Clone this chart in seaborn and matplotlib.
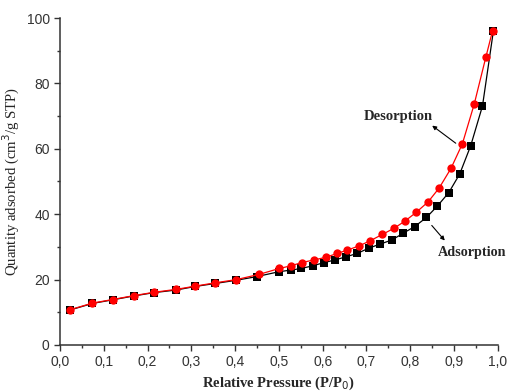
import matplotlib
matplotlib.use("Agg")
import matplotlib.pyplot as plt
from matplotlib.ticker import MultipleLocator, FuncFormatter
import pandas as pd
import seaborn as sns

# ---------------------------------------------------------------------------
# Isotherm data
# ---------------------------------------------------------------------------
ads_p = [0.023, 0.074, 0.120, 0.169, 0.214, 0.265, 0.309, 0.354, 0.403, 0.449,
         0.500, 0.527, 0.551, 0.577, 0.603, 0.628, 0.654, 0.679, 0.705, 0.732,
         0.758, 0.784, 0.810, 0.837, 0.862, 0.888, 0.913, 0.938, 0.965, 0.990]
ads_v = [10.7, 12.7, 13.8, 15.0, 16.0, 16.8, 17.9, 18.8, 19.8, 20.9,
         22.4, 22.9, 23.4, 24.2, 25.2, 26.0, 27.0, 28.0, 29.6, 30.9,
         32.1, 34.2, 36.2, 39.0, 42.5, 46.6, 52.3, 60.9, 73.1, 96.1]

des_p = [0.023, 0.074, 0.120, 0.169, 0.214, 0.265, 0.309, 0.354, 0.403, 0.455,
         0.501, 0.527, 0.552, 0.580, 0.607, 0.633, 0.656, 0.683, 0.709, 0.736,
         0.763, 0.788, 0.814, 0.841, 0.866, 0.893, 0.919, 0.946, 0.973, 0.988]
des_v = [10.8, 12.8, 13.9, 15.1, 16.1, 17.0, 18.0, 19.0, 20.0, 21.6,
         23.4, 24.2, 25.2, 26.0, 26.8, 28.0, 29.0, 30.3, 31.9, 33.8,
         35.7, 37.9, 40.6, 43.8, 48.0, 54.0, 61.5, 73.6, 88.2, 96.1]

ads = pd.DataFrame({"p": ads_p, "v": ads_v})
des = pd.DataFrame({"p": des_p, "v": des_v})

sns.set_style("ticks")
plt.rcParams["font.family"] = ["Liberation Sans", "DejaVu Sans"]

fig = plt.figure(figsize=(5.09, 3.92), dpi=100)
ax = fig.add_axes([0.118, 0.12, 0.86, 0.834])

sns.lineplot(data=ads, x="p", y="v", color="black", marker="s",
             markersize=5.5, markeredgewidth=0, linewidth=0.9, ax=ax)
sns.lineplot(data=des, x="p", y="v", color="#ff0000", marker="o",
             markersize=6, markeredgewidth=0, linewidth=0.9, ax=ax)

ax.set_xlim(0, 1.0)
ax.set_ylim(0, 100)
ax.xaxis.set_major_locator(MultipleLocator(0.1))
ax.xaxis.set_minor_locator(MultipleLocator(0.05))
ax.yaxis.set_major_locator(MultipleLocator(20))
ax.yaxis.set_minor_locator(MultipleLocator(10))
ax.xaxis.set_major_formatter(FuncFormatter(lambda v, _: f"{v:.1f}".replace(".", ",")))
ax.tick_params(which="major", direction="out", length=4, width=1,
               labelsize=10, colors="#333333")
ax.tick_params(which="minor", direction="out", length=2.5, width=1,
               colors="#333333")
for side in ("top", "right"):
    ax.spines[side].set_visible(False)
for side in ("left", "bottom"):
    ax.spines[side].set_color("#333333")
    ax.spines[side].set_linewidth(1.1)

serif = ["Liberation Serif", "DejaVu Serif"]
ax.set_xlabel("Relative Pressure (P/P$_0$)", fontsize=10.5, fontweight="bold",
              family=serif, labelpad=4)
ax.set_ylabel("Quantity adsorbed (cm$^3$/g STP)", fontsize=10.6,
              family=serif, labelpad=3)

# annotations
ax.text(0.772, 70.0, "Desorption", fontsize=10.5, fontweight="bold",
        family=serif, ha="center", va="center")
ax.annotate("", xy=(0.845, 67.6), xytext=(0.909, 61.2),
            arrowprops=dict(arrowstyle="-|>", color="black", lw=0.8,
                            mutation_scale=6))
ax.text(0.862, 28.3, "Adsorption", fontsize=10.2, fontweight="bold",
        family=serif, ha="left", va="center", clip_on=False)
ax.annotate("", xy=(0.883, 31.3), xytext=(0.845, 37.2),
            arrowprops=dict(arrowstyle="-|>", color="black", lw=0.8,
                            mutation_scale=6))

fig.savefig("out.png", dpi=100)
